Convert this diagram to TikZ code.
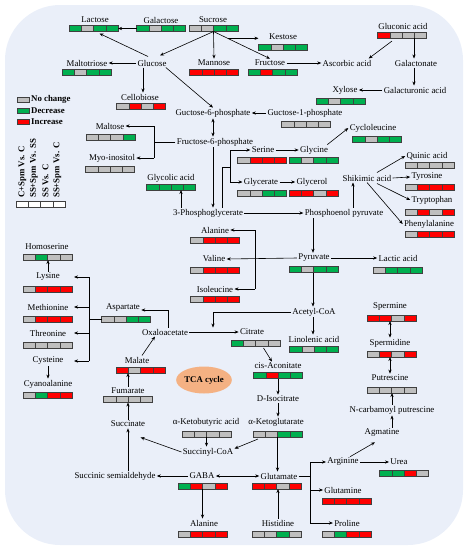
\documentclass[tikz,border=0pt]{standalone}
\usepackage{fontspec}
\setmainfont{Liberation Serif}
\usetikzlibrary{arrows.meta,calc,shapes.geometric}
\definecolor{gy}{HTML}{BFBFBF}
\definecolor{gn}{HTML}{00B050}
\definecolor{rd}{HTML}{FF0000}
\definecolor{bd}{HTML}{404040}
\definecolor{bgc}{HTML}{EAEFF9}
\definecolor{tcac}{HTML}{F4B183}
\tikzset{
  t/.style={font=\fontsize{8.8}{10}\selectfont, inner sep=1.2pt},
  lgt/.style={font=\fontsize{8.8}{10}\selectfont\bfseries, inner sep=1pt},
  cell/.style={draw=bd, line width=0.5pt, minimum width=12.25pt, minimum height=6pt, inner sep=0pt, outer sep=0pt},
  barbox/.style={draw=bd, line width=0.6pt, minimum width=49pt, minimum height=6pt, inner sep=0pt, outer sep=0pt},
  ln/.style={line width=0.6pt, draw=black},
  arr/.style={ln, -{Stealth[length=4pt,width=3.2pt]}},
  darr/.style={ln, {Stealth[length=4pt,width=3.2pt]}-{Stealth[length=4pt,width=3.2pt]}},
}
\newcommand\mbar[4]{%
  \foreach \cc [count=\i from 0] in {#4}{%
    \node[cell,fill=\cc] at ({#2-18.375+\i*12.25},#3) {};}
  \node[barbox] (#1) at (#2,#3) {};}
\begin{document}
\begin{tikzpicture}[x=1pt,y=-1pt]
\useasboundingbox (0,0) rectangle (467,550);
\fill[bgc, rounded corners=55pt] (5,5) rectangle (463,545);

% ---- text nodes
\node[t] (lac) at (95,20) {Lactose};
\node[t] (gal) at (161,20) {Galactose};
\node[t] (suc) at (213,20) {Sucrose};
\node[t] (kes) at (283,37) {Kestose};
\node[t] (glc) at (152,63) {Glucose};
\node[t] (man) at (214,63) {Mannose};
\node[t] (fru) at (270,63) {Fructose};
\node[t] (asc) at (347,63) {Ascorbic acid};
\node[t] (gla) at (403,26) {Gluconic acid};
\node[t] (gat) at (416,63) {Galactonate};
\node[t] (gau) at (415,90) {Galacturonic acid};
\node[t] (xyl) at (345,90) {Xylose};
\node[t] (mlt) at (87,63) {Maltotriose};
\node[t] (cel) at (140,97) {Cellobiose};
\node[t] (g6p) at (213,113) {Guctose-6-phosphate};
\node[t] (g1p) at (305,113) {Guctose-1-phosphate};
\node[t] (f6p) at (215,142) {Fructose-6-phosphate};
\node[t] (mal) at (110,126) {Maltose};
\node[t] (myo) at (112,158) {Myo-inositol};
\node[t] (gly) at (171,178) {Glycolic acid};
\node[t] (pga) at (208,213) {3-Phosphoglycerate};
\node[t] (ser) at (263,150) {Serine};
\node[t] (glyc) at (314,150) {Glycine};
\node[t] (gyt) at (261,182) {Glycerate};
\node[t] (gol) at (312,182) {Glycerol};
\node[t] (cyc) at (373,128) {Cycloleucine};
\node[t] (shk) at (367,178) {Shikimic acid};
\node[t] (qui) at (427,156) {Quinic acid};
\node[t] (tyr) at (427,177) {Tyrosine};
\node[t] (trp) at (432,200) {Tryptophan};
\node[t] (phe) at (429,224) {Phenylalanine};
\node[t] (pep) at (344,213) {Phosphoenol pyruvate};
\node[t] (pyr) at (314,258) {Pyruvate};
\node[t] (lac2) at (398,258) {Lactic acid};
\node[t] (ala) at (215,230) {Alanine};
\node[t] (val) at (214,259) {Valine};
\node[t] (ile) at (215,289) {Isoleucine};
\node[t] (aco) at (314,312) {Acetyl-CoA};
\node[t] (lin) at (314,339) {Linolenic acid};
\node[t] (oaa) at (165,332) {Oxaloacetate};
\node[t] (cit) at (252,332) {Citrate};
\node[t] (cis) at (278,366) {cis-Aconitate};
\node[t] (ici) at (278,399) {D-Isocitrate};
\node[ellipse, fill=tcac, minimum width=54pt, minimum height=27pt, inner sep=0pt,
      font=\fontsize{8.8}{10}\selectfont\bfseries] (tca) at (204,380) {TCA cycle};
\node[t] (asp) at (123,308) {Aspartate};
\node[t] (hom) at (47,247) {Homoserine};
\node[t] (lys) at (48,277) {Lysine};
\node[t] (met) at (48,307) {Methionine};
\node[t] (thr) at (48,333) {Threonine};
\node[t] (cys) at (48,361) {Cysteine};
\node[t] (cya) at (48,384) {Cyanoalanine};
\node[t] (mla) at (137,360) {Malate};
\node[t] (fum) at (128,391) {Fumarate};
\node[t] (sca) at (128,424) {Succinate};
\node[t] (ssa) at (115,476) {Succinic semialdehyde};
\node[t] (scoa) at (208,452) {Succinyl-CoA};
\node[t] (akb) at (206,422) {α-Ketobutyric acid};
\node[t] (akg) at (276,422) {α-Ketoglutarate};
\node[t] (gaba) at (202,476) {GABA};
\node[t] (glu) at (279,476) {Glutamate};
\node[t] (ala2) at (204,523) {Alanine};
\node[t] (his) at (278,523) {Histidine};
\node[t] (arg) at (343,462) {Arginine};
\node[t] (urea) at (399,462) {Urea};
\node[t] (agm) at (382,433) {Agmatine};
\node[t] (ncp) at (392,410) {N-carbamoyl putrescine};
\node[t] (put) at (390,378) {Putrescine};
\node[t] (spd) at (390,343) {Spermidine};
\node[t] (spm) at (390,307) {Spermine};
\node[t] (gln) at (343,490) {Glutamine};
\node[t] (pro) at (347,523) {Proline};

% ---- bars
\mbar{blac}{93.5}{28.5}{gn,gy,gn,gn}
\mbar{bgal}{161}{28.5}{gn,gy,gn,gn}
\mbar{bsuc}{213.5}{28.5}{gy,gy,gn,gn}
\mbar{bkes}{283}{47.5}{gn,gy,gn,gn}
\mbar{bman}{214}{72.5}{rd,rd,rd,rd}
\mbar{bfru}{272.5}{72.5}{gn,rd,gn,gn}
\mbar{bgla}{402}{35}{rd,gy,gy,gy}
\mbar{bxyl}{340.5}{101}{gn,gy,gn,gn}
\mbar{bmlt}{86.5}{72.5}{gn,gy,gn,gn}
\mbar{bcel}{141}{106}{gy,rd,gy,rd}
\mbar{bg1p}{306}{124}{gy,gy,gy,gy}
\mbar{bmal}{110.5}{137}{gy,gy,gy,gn}
\mbar{bmyo}{110}{169}{gy,gy,gy,gy}
\mbar{bgly}{171}{187}{gn,gn,gn,gn}
\mbar{bser}{262}{160.5}{gy,rd,rd,rd}
\mbar{bglyc}{313.5}{160.5}{gn,gy,gn,gn}
\mbar{bgyt}{262}{193.5}{gy,gy,gn,gn}
\mbar{bgol}{313.5}{193.5}{rd,rd,gy,rd}
\mbar{bcyc}{377}{139}{gn,gy,gn,gn}
\mbar{bqui}{429.5}{165}{gy,gy,gy,gy}
\mbar{btyr}{429.5}{187}{gy,rd,rd,rd}
\mbar{btrp}{429.5}{212.5}{gy,rd,gy,rd}
\mbar{bphe}{429.5}{234}{gy,rd,rd,rd}
\mbar{bpyr}{313.5}{269.5}{gn,gy,gn,gn}
\mbar{blaa}{397.5}{270.5}{gy,gn,gn,gn}
\mbar{bala}{215}{240.5}{gy,rd,rd,rd}
\mbar{bval}{215}{270.5}{gy,rd,rd,rd}
\mbar{bile}{215}{299.5}{gy,rd,rd,rd}
\mbar{blin}{314}{349.5}{gn,gy,gn,gn}
\mbar{bcit}{255.5}{343}{gn,gy,gy,gy}
\mbar{bcis}{278}{375.5}{gn,rd,gn,gn}
\mbar{basp}{126}{319}{gy,gy,gn,gn}
\mbar{bhom}{47.5}{257}{gy,gn,gy,gy}
\mbar{blys}{47.5}{289.5}{gy,rd,rd,rd}
\mbar{bmet}{47.5}{319.5}{gy,rd,rd,rd}
\mbar{bthr}{47.5}{345}{gy,gy,gy,gy}
\mbar{bcya}{47.5}{395}{gy,gn,rd,rd}
\mbar{bmla}{140.5}{370}{rd,gy,rd,rd}
\mbar{bfum}{128}{399.5}{gy,gy,gy,gy}
\mbar{bakb}{206.5}{434}{gy,gy,gy,gy}
\mbar{bakg}{277.5}{434}{gy,gy,gn,gn}
\mbar{bgaba}{202.5}{486}{gn,rd,gy,rd}
\mbar{bglu}{276.5}{486}{rd,rd,gy,rd}
\mbar{bala2}{202.5}{534}{gy,rd,rd,rd}
\mbar{bhis}{276.5}{534}{gy,gy,gn,gy}
\mbar{burea}{404}{473}{gn,gn,rd,gy}
\mbar{bput}{391.5}{390}{gy,gy,gy,gy}
\mbar{bspd}{391.5}{354}{gy,rd,gy,rd}
\mbar{bspm}{391.5}{318}{rd,rd,gy,rd}
\mbar{bgln}{346.5}{501}{rd,rd,rd,rd}
\mbar{bpro}{346.5}{534.5}{gy,gn,rd,rd}

% ---- legend
\node[cell,fill=gy,minimum width=12pt,minimum height=5.5pt] (lg1) at (23,99.5) {};
\node[cell,fill=gn,minimum width=12pt,minimum height=5.5pt] (lg2) at (23,110.5) {};
\node[cell,fill=rd,minimum width=12pt,minimum height=5.5pt] (lg3) at (23,121.5) {};
\node[lgt,anchor=west] (lt1) at (30,99.5) {No change};
\node[lgt,anchor=west] (lt2) at (30,110.5) {Decrease};
\node[lgt,anchor=west] (lt3) at (30,121.5) {Increase};
\mbar{bkey}{40.5}{204.5}{white,white,white,white}
\node[lgt,rotate=90,anchor=west] (r1) at (22.5,199) {C+Spm Vs. C};
\node[lgt,rotate=90,anchor=west] (r2) at (34,199) {SS+Spm Vs. SS};
\node[lgt,rotate=90,anchor=west] (r3) at (45.5,199) {SS Vs. C};
\node[lgt,rotate=90,anchor=west] (r4) at (57.5,199) {SS+Spm Vs. C};

% ---- connectors
\draw[arr] (bgal.west) -- (blac.east);
\draw[arr] (bsuc.south) -- ($(glc.north)+(8,-3)$);
\draw[arr] (bsuc.south) -- (man.north);
\draw[arr] (bsuc.south) -- (fru.north);
\coordinate (kb) at ($(bsuc.south)!0.25!(fru.north)$);
\draw[arr] (kb) -- (kb -| bkes.west);
\draw[arr] ($(glc.north)+(-4,-2)$) -- ($(blac.south)+(6,2)$);
\draw[arr] (glc.west) -- (mlt.east);
\coordinate (gs) at ($(glc.south)+(-9,0)$);
\draw[arr] (gs) -- (gs |- cel.north);
\draw[arr] ($(glc.south east)+(-2,0)$) -- (g6p.north);
\draw[arr] (g1p.west) -- (g6p.east);
\draw[darr] (g6p.south) -- (g6p.south |- f6p.north);
\coordinate (fb) at (154,0);
\draw[ln] (f6p.west) -- (f6p.west -| fb);
\draw[ln] (fb |- mal) -- (fb |- myo);
\draw[arr] (fb |- mal) -- (mal.east);
\draw[arr] (fb |- myo) -- (myo.east);
\coordinate (cx) at (213,0);
\draw[arr] (cx |- f6p.south) -- (cx |- pga.north);
\coordinate (gx) at (181,0);
\draw[arr] (gx |- pga.north) -- (gx |- bgly.south);
\coordinate (pb) at (222,167);
\coordinate (bx) at (230,0);
\draw[ln] (pga.north -| pb) -- (pb) -- (pb -| bx);
\draw[ln] (bx |- ser) -- (bx |- gyt);
\draw[arr] (bx |- ser) -- (ser.west);
\draw[arr] (bx |- gyt) -- (gyt.west);
\draw[arr] (ser.east) -- (glyc.west);
\draw[arr] (gyt.east) -- (gol.west);
\draw[arr] ($(glyc.north east)+(-2,0)$) -- (cyc.west);
\coordinate (sx) at (353,0);
\draw[arr] (sx |- pep.north) -- (sx |- shk.south);
\draw[arr] ($(shk.north)+(10,-1)$) -- (qui.west);
\draw[arr] (shk.east) -- (tyr.west);
\draw[arr] ($(shk.south)+(10,1)$) -- (trp.west);
\draw[arr] (shk.south) -- (phe.west);
\draw[arr] (pga.east) -- (pep.west);
\coordinate (yx) at (313,0);
\draw[arr] (yx |- pep.south) -- (yx |- pyr.north);
\draw[arr] (pyr.east) -- (lac2.west);
\draw[arr] (pyr.west) -- (val.east);
\coordinate (vx) at (255,0);
\draw[ln] (vx |- ala) -- (vx |- ile);
\draw[arr] (vx |- ala) -- (ala.east);
\draw[arr] (vx |- ile) -- (ile.east);
\draw[arr] (yx |- bpyr.south) -- (yx |- aco.north);
\draw[arr] (yx |- aco.south) -- (yx |- lin.north);
\draw[arr] (aco.west) -- (aco.west -| cx) -- (cx |- oaa.north);
\draw[arr] (oaa.east) -- (cit.west);
\draw[arr] ($(bcit.south)+(8,2)$) -- ($(cis.north)+(-6,0)$);
\draw[arr] (bcis.south) -- (ici.north);
\draw[arr] (ici.south) -- (ici.south |- akg.north);
\coordinate (ob) at (168,310);
\draw[arr] (oaa.north -| ob) -- (ob) -- (asp.east |- ob);
\coordinate (kx) at (89,0);
\coordinate (ke) at (74,0);
\draw[ln] (basp.west) -- (basp.west -| kx);
\draw[ln] (kx |- lys) -- (kx |- cys);
\draw[arr] (kx |- lys) -- (ke |- lys);
\draw[arr] (kx |- met) -- (ke |- met);
\draw[arr] (kx |- thr) -- (ke |- thr);
\draw[arr] (kx |- cys) -- (ke |- cys);
\draw[arr] (lys.north) -- (lys.north |- bhom.south);
\draw[arr] (cys.south) -- (cya.north);
\draw[arr] ($(mla.north)+(5,0)$) -- ($(oaa.south)+(-10,0)$);
\draw[arr] (fum.north) -- (fum.north |- bmla.south);
\draw[arr] (sca.north) -- (sca.north |- bfum.south);
\draw[arr] (sca.south |- ssa.north) -- (sca.south);
\draw[arr] (scoa.west) -- ($(sca.south east)+(-6,9)$);
\draw[arr] (bakb.south) -- (bakb.south |- scoa.north);
\draw[arr] ($(bakg.south west)+(5,2)$) -- ($(scoa.north east)+(0,2)$);
\draw[arr] (bakg.south) -- (bakg.south |- glu.north);
\draw[darr] (gaba.east) -- (glu.west);
\draw[arr] (gaba.west) -- (ssa.east);
\draw[arr] (bgaba.south) -- (bgaba.south |- ala2.north);
\draw[arr] (his.north) -- (his.north |- bglu.south);
\coordinate (ux) at (310,0);
\draw[ln] (glu.east) -- (glu.east -| ux);
\draw[ln] (ux |- arg) -- (ux |- pro);
\draw[arr] (ux |- arg) -- (arg.west);
\draw[arr] (ux |- gln) -- (gln.west);
\draw[arr] (ux |- pro) -- (pro.west);
\draw[arr] (arg.east) -- (urea.west);
\draw[arr] ($(arg.north)+(7,0)$) -- ($(agm.south)+(-7,4)$);
\draw[arr] (ncp.south |- agm.north) -- (ncp.south);
\draw[arr] (ncp.north) -- (ncp.north |- bput.south);
\draw[darr] (put.north) -- (put.north |- bspd.south);
\draw[darr] (spd.north) -- (spd.north |- bspm.south);
\draw[arr] (fru.east) -- (asc.west);
\draw[arr] ($(bgla.south)+(-10,3)$) -- ($(asc.north east)+(-4,0)$);
\coordinate (lx) at (414,0);
\draw[arr] (lx |- bgla.south) -- (lx |- gat.north);
\draw[arr] (lx |- gat.south) -- (lx |- gau.north);
\draw[arr] (gau.west) -- (xyl.east);
\end{tikzpicture}
\end{document}
